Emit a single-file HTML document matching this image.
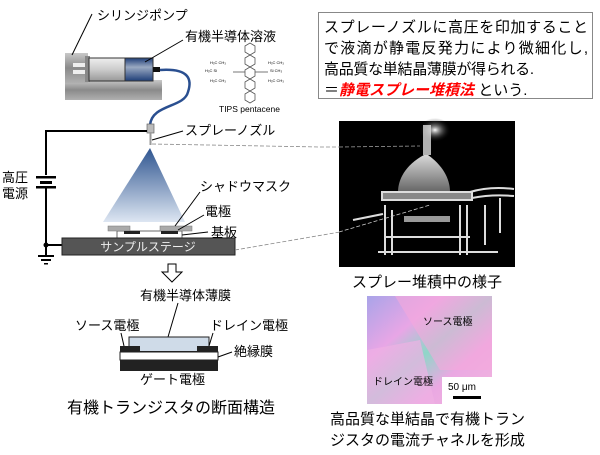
<!DOCTYPE html>
<html><head><meta charset="utf-8"><style>
body{margin:0;background:#fff;width:600px;height:450px;overflow:hidden}
text{font-family:"Liberation Sans","Noto Sans CJK JP",sans-serif;fill:#000}
</style></head><body>
<svg width="600" height="450" viewBox="0 0 600 450" xmlns="http://www.w3.org/2000/svg">
<defs>
<linearGradient id="cone" x1="0" y1="0" x2="0" y2="1"><stop offset="0" stop-color="#2f5590"/><stop offset="1" stop-color="#dde6f2"/></linearGradient>
<linearGradient id="gray" x1="0" y1="0" x2="0" y2="1"><stop offset="0" stop-color="#c8c8c8"/><stop offset="0.5" stop-color="#8a8a8a"/><stop offset="1" stop-color="#b0b0b0"/></linearGradient>
<linearGradient id="barrel" x1="0" y1="0" x2="0" y2="1"><stop offset="0" stop-color="#eee"/><stop offset="0.5" stop-color="#ccc"/><stop offset="1" stop-color="#999"/></linearGradient>
<linearGradient id="liq" x1="0" y1="0" x2="0" y2="1"><stop offset="0" stop-color="#1f3e78"/><stop offset="0.4" stop-color="#9aa9c2"/><stop offset="1" stop-color="#1f3e78"/></linearGradient>
<linearGradient id="micro" x1="0" y1="0" x2="1" y2="1"><stop offset="0" stop-color="#a9a4e8"/><stop offset="0.3" stop-color="#e8a6e6"/><stop offset="0.5" stop-color="#8fd6c8"/><stop offset="0.7" stop-color="#eaa8e2"/><stop offset="1" stop-color="#f3b6df"/></linearGradient>
<linearGradient id="spr" x1="0" y1="0" x2="0" y2="1"><stop offset="0" stop-color="#fff"/><stop offset="1" stop-color="#777"/></linearGradient>
<radialGradient id="glow" cx="0.5" cy="0.5" r="0.5"><stop offset="0" stop-color="#fff"/><stop offset="1" stop-color="#000" stop-opacity="0"/></radialGradient>
</defs>
<!-- syringe pump -->
<rect x="65" y="80" width="97" height="20" fill="url(#gray)"/>
<rect x="65" y="53" width="23" height="30" fill="url(#gray)"/>
<rect x="73" y="63" width="15" height="4" fill="#eee"/>
<rect x="73" y="70" width="15" height="4" fill="#eee"/>
<rect x="85" y="56" width="5" height="26" fill="#888"/>
<rect x="89" y="58" width="38" height="23" fill="url(#barrel)" stroke="#333" stroke-width="1"/>
<rect x="125" y="58" width="28" height="23" fill="url(#liq)" stroke="#333" stroke-width="1"/>
<rect x="153" y="67" width="7" height="5" fill="#111"/>
<path d="M160 70 C190 68 192 80 188 92 C184 108 152 104 150 125" fill="none" stroke="#2a4f90" stroke-width="2.5"/>
<line x1="92" y1="14" x2="72" y2="55" stroke="#000"/>
<text x="97" y="20" font-size="13">シリンジポンプ</text>
<line x1="183" y1="40" x2="145" y2="62" stroke="#000"/>
<text x="185" y="41" font-size="13">有機半導体溶液</text>
<!-- molecule -->
<g fill="none" stroke="#555" stroke-width="0.8">
<path d="M245 46 l5 -3 l5 3 v6 l-5 3 l-5 -3z M245 58 l5 -3 l5 3 v6 l-5 3 l-5 -3z M245 70 l5 -3 l5 3 v6 l-5 3 l-5 -3z M245 82 l5 -3 l5 3 v6 l-5 3 l-5 -3z M245 94 l5 -3 l5 3 v6 l-5 3 l-5 -3z"/>
<line x1="233" y1="72" x2="245" y2="72"/><line x1="255" y1="72" x2="268" y2="72"/>
</g>
<text x="210" y="64" font-size="4">H₃C CH₃</text><text x="205" y="72" font-size="4">H₃C Si</text><text x="210" y="82" font-size="4">H₃C CH₃</text>
<text x="268" y="64" font-size="4">H₃C CH₃</text><text x="270" y="72" font-size="4">Si CH₃</text><text x="268" y="82" font-size="4">H₃C CH₃</text>
<text x="219" y="112" font-size="8.5" fill="#333">TIPS pentacene</text>
<!-- nozzle and wire -->
<rect x="147" y="124" width="7" height="9" fill="#bbb" stroke="#666" stroke-width="0.7"/>
<rect x="149.5" y="133" width="2" height="12" fill="#999"/>
<polyline points="147,131 46,131 46,175" fill="none" stroke="#000" stroke-width="2"/>
<rect x="36" y="176" width="20" height="2.5" fill="#000"/><rect x="40" y="181" width="12" height="3" fill="#000"/>
<rect x="36" y="186" width="20" height="2.5" fill="#000"/>
<polyline points="46,188 46,255" fill="none" stroke="#000" stroke-width="2"/>
<line x1="46" y1="245" x2="62" y2="245" stroke="#000" stroke-width="2"/>
<circle cx="46" cy="245" r="2.5" fill="#000"/>
<rect x="38" y="255" width="16" height="2" fill="#000"/><rect x="41" y="259" width="10" height="2" fill="#000"/><rect x="44" y="263" width="4" height="1.5" fill="#000"/>
<text x="2" y="182" font-size="13">高圧</text><text x="2" y="198" font-size="13">電源</text>
<line x1="152" y1="140" x2="183" y2="131" stroke="#000"/>
<text x="185" y="135" font-size="13">スプレーノズル</text>
<!-- cone -->
<polygon points="150,148 103,222 185,222" fill="url(#cone)"/>
<!-- substrate -->
<rect x="117" y="231" width="65" height="8" fill="#fff" stroke="#444" stroke-width="0.8"/>
<rect x="108" y="226" width="22" height="5" fill="#aaa" stroke="#777" stroke-width="0.5"/>
<rect x="160" y="226" width="32" height="5" fill="#aaa" stroke="#777" stroke-width="0.5"/>
<rect x="124" y="231" width="16" height="3" fill="#222"/><rect x="161" y="231" width="17" height="3" fill="#222"/>
<rect x="62" y="238" width="173" height="17" fill="#555" stroke="#222"/>
<text x="148" y="251" font-size="12" text-anchor="middle" style="fill:#eee">サンプルステージ</text>
<line x1="175" y1="226" x2="200" y2="192" stroke="#000"/>
<text x="200" y="191" font-size="13">シャドウマスク</text>
<line x1="178" y1="230" x2="204" y2="215" stroke="#000"/>
<text x="205" y="216" font-size="13">電極</text>
<line x1="182" y1="235" x2="208" y2="232" stroke="#000"/>
<text x="211" y="237" font-size="13">基板</text>
<!-- dashed -->
<polyline points="152,144 320,147 339,147" fill="none" stroke="#888" stroke-dasharray="4,2" stroke-width="0.8"/>
<polyline points="235,250 340,232" fill="none" stroke="#888" stroke-dasharray="4,2" stroke-width="0.8"/>
<!-- text box -->
<rect x="318.5" y="12.5" width="274" height="86" fill="#fff" stroke="#888"/>
<text x="324" y="32" font-size="15" textLength="264">スプレーノズルに高圧を印加すること</text>
<text x="324" y="53" font-size="15" textLength="264">で液滴が静電反発力により微細化し,</text>
<text x="324" y="74" font-size="15" textLength="210">高品質な単結晶薄膜が得られる.</text>
<text x="324" y="95" font-size="15">＝<tspan style="fill:#f00;font-weight:bold;font-style:italic">静電スプレー堆積法</tspan> という.</text>
<!-- photo -->
<rect x="339" y="121" width="176" height="146" fill="#000"/>
<ellipse cx="435" cy="130" rx="16" ry="12" fill="url(#glow)"/>
<rect x="423" y="125" width="8" height="30" fill="#ddd" opacity="0.8"/>
<path d="M424 155 C405 165 398 180 398 192 L450 192 C450 178 442 165 428 155Z" fill="url(#spr)" opacity="0.85"/>
<polyline points="339,147 420,146" fill="none" stroke="#999" stroke-dasharray="4,2" stroke-width="0.8"/>
<g fill="none" stroke="#ddd" stroke-width="2">
<path d="M382 192 h90 v8 h-90z" fill="#888"/>
<path d="M470 192 q20 -6 44 -3 M472 198 q20 -4 42 -2 M500 198 v35 M485 205 v40"/>
<path d="M353 220 l30 -6 M385 205 v50 M392 210 v45 M460 205 v50 M467 205 v50 M385 237 h85 M378 252 h120"/>
</g>
<rect x="404" y="216" width="46" height="6" fill="#999"/>
<polyline points="339,232 430,205" fill="none" stroke="#ccc" stroke-dasharray="4,2" stroke-width="0.8"/>
<text x="427" y="287" font-size="15" text-anchor="middle">スプレー堆積中の様子</text>
<!-- micrograph -->
<rect x="367" y="296" width="125" height="108" fill="url(#micro)"/>
<path d="M395 296 L492 296 L492 370 L440 370 Z" fill="#f5a8dc" opacity="0.6"/>
<path d="M367 350 L420 340 L435 404 L367 404Z" fill="#f0b0e4" opacity="0.7"/>
<text x="423" y="325" font-size="10">ソース電極</text>
<text x="373" y="385" font-size="10">ドレイン電極</text>
<rect x="442" y="377" width="50" height="27" fill="#fff"/>
<text x="448" y="390" font-size="10">50 μm</text>
<rect x="453" y="396" width="28" height="3" fill="#000"/>
<text x="330" y="424" font-size="15">高品質な単結晶で有機トラン</text>
<text x="330" y="445" font-size="15">ジスタの電流チャネルを形成</text>
<!-- down arrow -->
<path d="M168 264 h8 v8 h6 l-10 10 l-10 -10 h6z" fill="#fff" stroke="#000"/>
<text x="140" y="300" font-size="13">有機半導体薄膜</text>
<line x1="178" y1="303" x2="168" y2="337" stroke="#000"/>
<rect x="129" y="337" width="80" height="15" fill="#cfdbe8" stroke="#222"/>
<rect x="120" y="352" width="98" height="8" fill="#fff" stroke="#222"/>
<rect x="120" y="346" width="20" height="6" fill="#222"/><rect x="197" y="346" width="21" height="6" fill="#222"/>
<rect x="140" y="351" width="57" height="1.5" fill="#222"/>
<rect x="120" y="360" width="98" height="11" fill="#222"/>
<text x="75" y="330" font-size="13">ソース電極</text>
<line x1="121" y1="333" x2="124" y2="346" stroke="#000"/>
<text x="210" y="330" font-size="13">ドレイン電極</text>
<line x1="213" y1="333" x2="209" y2="346" stroke="#000"/>
<text x="234" y="356" font-size="13">絶縁膜</text>
<line x1="232" y1="352" x2="218" y2="357" stroke="#000"/>
<text x="140" y="384" font-size="13">ゲート電極</text>
<text x="67" y="413" font-size="16">有機トランジスタの断面構造</text>
</svg>
</body></html>
